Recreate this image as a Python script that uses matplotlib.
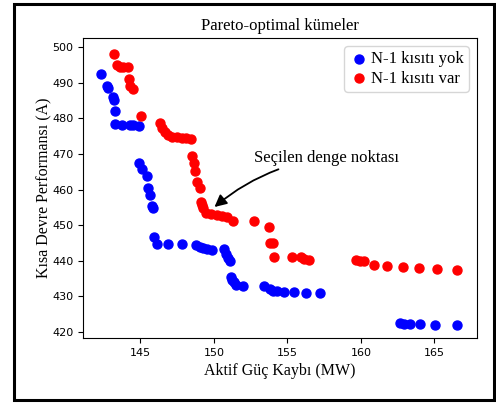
import matplotlib.pyplot as plt
from matplotlib.patches import Rectangle

# N-1 kisiti yok (mavi)
blue_x = [142.32, 142.71, 142.82, 143.16, 143.21, 143.26, 143.28, 143.73, 144.30, 144.52,
          144.93, 144.93, 145.10, 145.44, 145.50, 145.66, 145.78, 145.89, 145.93, 146.12,
          146.87, 147.86, 148.77, 149.05, 149.25, 149.52, 149.86, 150.72, 150.82, 150.95,
          151.10, 151.18, 151.25, 151.35, 151.52, 152.00, 153.44, 153.83, 154.00, 154.29,
          154.74, 155.42, 156.28, 157.24, 162.64, 162.91, 163.37, 164.00, 165.07, 166.57]
blue_y = [492.4, 489.1, 488.5, 486.1, 485.2, 482.2, 478.3, 478.2, 478.2, 478.1,
          478.0, 467.6, 465.7, 463.9, 460.4, 458.5, 455.5, 454.8, 446.6, 444.7,
          444.6, 444.6, 444.3, 444.0, 443.7, 443.3, 443.1, 443.3, 441.9, 440.9,
          439.9, 435.5, 434.6, 433.9, 433.2, 432.9, 432.9, 432.1, 431.6, 431.5,
          431.3, 431.2, 431.0, 430.9, 422.4, 422.3, 422.2, 422.1, 422.0, 421.9]

# N-1 kisiti var (kirmizi)
red_x = [143.23, 143.39, 143.60, 143.84, 144.14, 144.23, 144.30, 144.52, 145.07, 146.34,
         146.46, 146.68, 146.90, 147.14, 147.48, 147.82, 148.10, 148.45, 148.54, 148.68,
         148.72, 148.88, 149.07, 149.11, 149.20, 149.29, 149.47, 149.81, 150.20, 150.54,
         150.88, 151.33, 152.74, 153.78, 153.85, 154.02, 154.06, 155.31, 155.92, 156.15,
         156.44, 159.69, 159.96, 160.23, 160.87, 161.78, 162.84, 163.96, 165.18, 166.55]
red_y = [498.1, 495.0, 494.5, 494.4, 494.4, 491.0, 489.1, 488.2, 480.8, 478.6,
         477.2, 476.3, 475.4, 474.9, 474.7, 474.6, 474.4, 474.1, 469.5, 467.6,
         465.2, 462.2, 460.4, 456.6, 455.8, 454.8, 453.5, 453.1, 452.9, 452.7,
         452.2, 451.1, 451.2, 449.4, 444.9, 444.9, 441.2, 441.2, 441.2, 440.5,
         440.2, 440.2, 439.9, 439.8, 438.8, 438.6, 438.3, 438.1, 437.7, 437.5]

secilen = (149.9, 454.6)

serif = ['Liberation Serif', 'DejaVu Serif']

fig = plt.figure(figsize=(4.96, 4.03), dpi=100)
ax = fig.add_axes([83/496, 1 - 338/403, 394/496, 300/403])

ax.scatter(blue_x, blue_y, s=42, color='blue', label='N-1 kısıtı yok')
ax.scatter(red_x, red_y, s=42, color='red', label='N-1 kısıtı var')

ax.annotate('Seçilen denge noktası', xy=secilen, xytext=(152.7, 469),
            ha='left', va='center', fontsize=12, family=serif,
            arrowprops=dict(arrowstyle='-|>', connectionstyle='arc3,rad=0.15',
                            color='black', lw=1.3, mutation_scale=18))

ax.set_xlim(141.1, 167.9)
ax.set_ylim(418.3, 502.6)
ax.set_xticks([145, 150, 155, 160, 165])
ax.tick_params(labelsize=8)
ax.set_title('Pareto-optimal kümeler', fontsize=12, family=serif)
ax.set_xlabel('Aktif Güç Kaybı (MW)', fontsize=11.5, family=serif)
ax.set_ylabel('Kısa Devre Performansı (A)', fontsize=11.5, family=serif, labelpad=0)
ax.legend(loc='upper right', prop={'family': serif, 'size': 12},
          handletextpad=0.1, borderpad=0.3, labelspacing=0.2, handlelength=1.2)

fig.patches.append(Rectangle((14/496, 3.5/403), 479.5/496, 396/403, transform=fig.transFigure,
                             fill=False, edgecolor='black', lw=2.2))

fig.savefig('out.png', dpi=100)
